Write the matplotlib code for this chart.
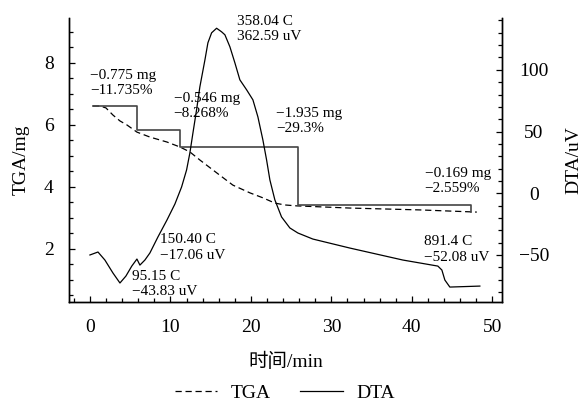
import matplotlib
matplotlib.use("Agg")
import matplotlib.pyplot as plt
from matplotlib.ticker import MultipleLocator

plt.rcParams["font.family"] = ["Liberation Serif", "Noto Sans CJK SC"]

# DTA curve (time in min, signal in uV)
dta_time = [0.0, 1.0, 1.86, 2.86, 3.73, 4.47, 5.2, 5.84, 6.21, 6.83, 7.45, 8.45,
            9.57, 10.56, 11.39, 12.01, 12.42, 12.8, 13.25, 13.66, 14.29, 14.66,
            15.12, 15.74, 16.36, 16.77, 17.39, 18.01, 18.63, 19.47, 20.25, 20.87,
            21.49, 21.95, 22.36, 22.98, 23.81, 24.84, 25.84, 27.7, 32.3, 38.88,
            43.23, 43.73, 44.1, 44.72, 48.45]
dta_uv = [-50.0, -47.6, -54.1, -64.6, -72.7, -67.1, -59.0, -53.3, -58.2, -54.1,
          -48.4, -35.4, -21.7, -8.7, 5.1, 18.9, 32.7, 48.9, 67.6, 86.2, 108.1,
          121.9, 130.0, 133.7, 130.8, 128.4, 118.7, 105.7, 91.9, 83.8, 75.7, 61.9,
          43.2, 27.0, 10.8, -5.4, -19.2, -28.1, -32.2, -37.1, -44.4, -54.1, -59.0,
          -62.2, -70.3, -76.0, -75.2]

# TGA curve (mg)
tga_time = [0.37, 1.24, 1.99, 2.86, 3.73, 4.6, 5.84, 7.45, 9.57, 11.18, 12.42,
            13.66, 15.78, 17.76, 19.88, 21.49, 22.98, 24.22, 25.71, 32.3, 41.0, 48.07]
tga_mg = [6.61, 6.61, 6.55, 6.32, 6.13, 6.0, 5.77, 5.61, 5.45, 5.29, 5.13, 4.87,
          4.45, 4.06, 3.81, 3.65, 3.48, 3.42, 3.39, 3.32, 3.26, 3.19]

# mass-loss steps
step_time = [0.37, 5.84, 11.18, 25.84, 47.4]
step_mg = [6.61, 5.84, 5.29, 3.42, 3.19]

fig = plt.figure(figsize=(5.86, 4.03), dpi=100)
ax = fig.add_axes([69 / 586, 101 / 403, 433 / 586, 284 / 403])
ax2 = ax.twinx()

ax.plot(tga_time, tga_mg, color="black", lw=0.9, dashes=(5, 3), label="TGA")
ax.plot(step_time, step_mg, color="#444444", lw=1.2, drawstyle="steps-post")
ax2.plot(dta_time, dta_uv, color="black", lw=0.9, label="DTA")

ax.set_xlim(-2.6, 51.2)
ax.set_ylim(0.29, 9.45)
ax2.set_ylim(-88.1, 142)

ax.xaxis.set_major_locator(MultipleLocator(10))
ax.xaxis.set_minor_locator(MultipleLocator(2))
ax.yaxis.set_major_locator(MultipleLocator(2))
ax.yaxis.set_minor_locator(MultipleLocator(0.5))
ax2.yaxis.set_major_locator(MultipleLocator(50))
ax2.yaxis.set_minor_locator(MultipleLocator(10))

for a in (ax, ax2):
    a.spines["top"].set_visible(False)
    for s in a.spines.values():
        s.set_linewidth(1.0)
    a.tick_params(which="both", direction="in", width=0.9, labelsize=14)
    a.tick_params(which="major", length=4)
    a.tick_params(which="minor", length=3)
ax.tick_params(axis="x", pad=12)
ax.tick_params(axis="y", pad=11)
ax2.tick_params(axis="y", pad=23)
for tl in ax2.get_yticklabels():
    tl.set_ha("center")

ax.set_ylabel("TGA/mg", fontsize=14, labelpad=10)
ax2.set_ylabel("DTA/uV", fontsize=14, labelpad=12)
ax.set_xlabel("时间/min", fontsize=14, labelpad=12)

# annotations
notes = [
    (0.0, 7.35, "−0.775 mg\n−11.735%"),
    (10.4, 6.61, "−0.546 mg\n−8.268%"),
    (23.1, 6.13, "−1.935 mg\n−29.3%"),
    (41.6, 4.19, "−0.169 mg\n−2.559%"),
    (18.3, 9.1, "358.04 C\n362.59 uV"),
    (8.7, 2.05, "150.40 C\n−17.06 uV"),
    (5.2, 0.87, "95.15 C\n−43.83 uV"),
    (41.5, 1.98, "891.4 C\n−52.08 uV"),
]
for x, y, s in notes:
    ax.text(x, y, s, fontsize=11, ha="left", va="center", linespacing=1.25,
            clip_on=False)

h1, l1 = ax.get_legend_handles_labels()
h2, l2 = ax2.get_legend_handles_labels()
fig.legend(h1 + h2, l1 + l2, loc="center", bbox_to_anchor=(285 / 586, 1 - 393 / 403),
           ncol=2, frameon=False, fontsize=14, handlelength=2.2,
           handletextpad=0.7, columnspacing=1.5, borderpad=0)

fig.savefig("out.png", dpi=100)
